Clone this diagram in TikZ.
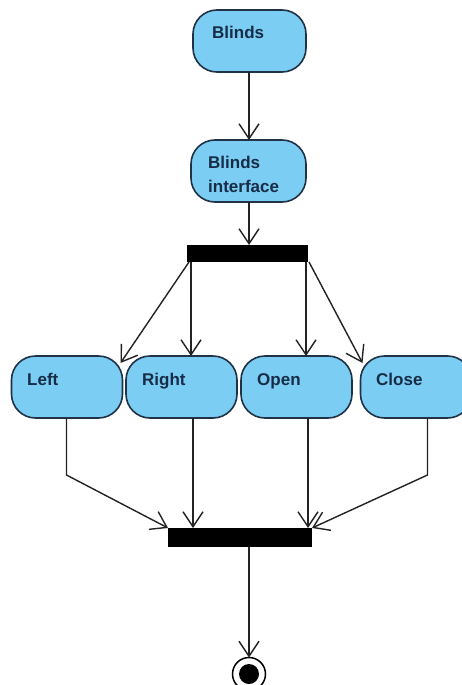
\documentclass[tikz,border=0pt]{standalone}
\usepackage{fontspec}
\setmainfont{Liberation Sans}
\usetikzlibrary{arrows.meta}
\definecolor{actfill}{RGB}{124,205,244}
\definecolor{actedge}{RGB}{31,50,70}
\definecolor{acttext}{RGB}{23,44,70}
\definecolor{flow}{RGB}{35,35,35}
\begin{document}
\begin{tikzpicture}[x=1pt,y=-1pt,
  action/.style={draw=actedge, fill=actfill, line width=1.6pt, outer sep=0pt,
    rounded corners=24pt, inner sep=0pt, minimum height=62pt},
  label text/.style={font=\fontsize{17}{24}\selectfont\bfseries, text=acttext,
    inner sep=0pt, anchor=base west, align=left},
  syncbar/.style={fill=black, draw=none, inner sep=0pt, outer sep=0pt},
  flowarrow/.style={draw=flow, line width=1.4pt,
    -{Straight Barb[length=15pt,width=20pt,line width=1.4pt]}},
  final/.style={circle, draw=black, line width=1.5pt, fill=white,
    minimum size=33pt, inner sep=0pt, outer sep=0pt}]
\clip (0,0) rectangle (462,685);
\fill[white] (0,0) rectangle (462,685);

% actions
\node[action, minimum width=113pt] (blinds) at (249.5,41) {};
\node[action, minimum width=115pt] (iface) at (248.5,171) {};
\node[action, minimum width=111pt] (left) at (67,387) {};
\node[action, minimum width=111pt] (right) at (181.5,387) {};
\node[action, minimum width=111pt] (open) at (296.5,387) {};
\node[action, minimum width=111pt] (close) at (416,387) {};

\node[label text] (tblinds) at (212,39) {Blinds};
\node[label text] (tiface) at (208,192) {Blinds\\interface};
\node[label text] (tleft) at (27,385) {Left};
\node[label text] (tright) at (142,385) {Right};
\node[label text] (topen) at (257,385) {Open};
\node[label text] (tclose) at (376,385) {Close};

% fork and join bars
\node[syncbar, minimum width=121pt, minimum height=17pt] (fork) at (247.5,253.5) {};
\node[syncbar, minimum width=144pt, minimum height=19pt] (join) at (240,537.5) {};

% final node
\node[final] (end) at (249,674) {};
\fill (end.center) circle (10pt);

% control flows
\draw[flowarrow] ([xshift=-0.5pt]blinds.south) -- ([xshift=0.5pt]iface.north);
\draw[flowarrow] ([xshift=0.5pt]iface.south) -- ([xshift=1.5pt]fork.north);
\draw[flowarrow] ([xshift=2pt]fork.south west) -- ([xshift=-2pt,yshift=-7pt]left.north east);
\draw[flowarrow] ([xshift=4pt]fork.south west) -- ([xshift=65pt]right.north west);
\draw[flowarrow] ([xshift=-2pt]fork.south east) -- ([xshift=65pt]open.north west);
\draw[flowarrow] ([xshift=1pt]fork.south east) -- ([xshift=2pt,yshift=-7pt]close.north west);

\draw[flowarrow] ([xshift=55pt]left.south west) -- ++(0,57) -- (join.north west);
\draw[flowarrow] ([xshift=67pt]right.south west) -- ([xshift=25pt]join.north west);
\draw[flowarrow] ([xshift=67pt]open.south west) -- ([xshift=-4pt]join.north east);
\draw[flowarrow] ([xshift=67pt]close.south west) -- ++(0,57) -- (join.north east);

\draw[flowarrow] ([xshift=9pt]join.south) -- (end.north);
\end{tikzpicture}
\end{document}
